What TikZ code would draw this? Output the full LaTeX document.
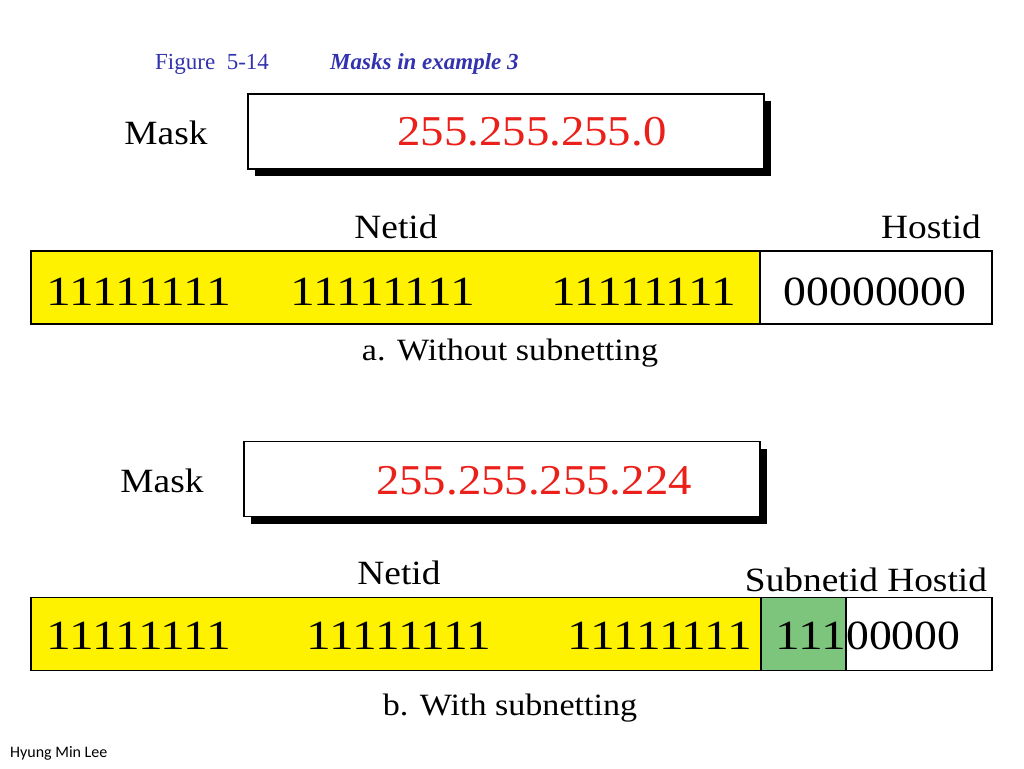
\documentclass[tikz,border=0pt]{standalone}
\usepackage{fontspec}
\setmainfont{Liberation Serif}
\newfontfamily\bigserif[FakeStretch=1.1]{Liberation Serif}
\newfontfamily\footfont{Carlito}
\usetikzlibrary{shadows}
\definecolor{maskred}{RGB}{235,32,26}
\definecolor{titleblue}{RGB}{51,51,175}
\definecolor{subgreen}{RGB}{125,197,125}
\newcommand{\onesw}[1]{\scalebox{1.08}[1]{#1}}
\tikzset{
  lbltxt/.style={font=\bigserif\fontsize{34}{40}\selectfont, inner sep=0pt},
  captxt/.style={font=\bigserif\fontsize{31}{36}\selectfont, inner sep=0pt},
  bitstxt/.style={font=\bigserif\fontsize{41.5}{48}\selectfont, inner sep=0pt},
  maskval/.style={font=\bigserif\fontsize{42.5}{48}\selectfont, inner sep=0pt, text=maskred},
  maskbox/.style={draw=black, line width=1.3pt, fill=white, minimum width=516pt, minimum height=75pt,
    drop shadow={shadow xshift=7pt, shadow yshift=-7pt, opacity=1, fill=black}},
  seg/.style={draw=black, line width=1.5pt, minimum height=73pt, inner sep=0pt},
  figtitle/.style={font=\fontsize{23}{27}\selectfont, text=titleblue, inner sep=0pt, anchor=west}
}
\begin{document}
\begin{tikzpicture}[x=1pt, y=-1pt]
\useasboundingbox (0,0) rectangle (1024,768);
\fill[white] (0,0) rectangle (1024,768);

% title
\node[figtitle] (fig) at (155,64) {Figure\ \ 5-14};
\node[figtitle, font=\fontsize{23}{27}\selectfont\bfseries\itshape] (figt) at (330,64) {Masks in example 3};

% part a
\node[lbltxt] (maska) at (166,133) {Mask};
\node[maskbox] (boxa) at (506,131.5) {};
\node[maskval] (vala) at (532,132) {255.255.255.0};

\node[lbltxt] (neta) at (396,227) {Netid};
\node[lbltxt] (hosta) at (931,227) {Hostid};

\node[seg, fill=yellow, minimum width=729pt] (ya) at (395.5,287.5) {};
\node[seg, fill=white, minimum width=232pt] (wa) at (876,287.5) {};
\node[bitstxt] (a1) at (139,292) {\onesw{11111111}};
\node[bitstxt] (a2) at (383,292) {\onesw{11111111}};
\node[bitstxt] (a3) at (644,292) {\onesw{11111111}};
\node[bitstxt] (a4) at (875,292) {00000000};
\node[captxt] (capa) at (510,353) {a. Without subnetting};

% part b
\node[lbltxt] (maskb) at (162,481) {Mask};
\node[maskbox] (boxb) at (502,479) {};
\node[maskval] (valb) at (534,481) {255.255.255.224};

\node[lbltxt] (netb) at (399,573) {Netid};
\node[lbltxt] (subb) at (866,580) {Subnetid Hostid};

\node[seg, fill=yellow, minimum width=730pt] (yb) at (396,634) {};
\node[seg, fill=subgreen, minimum width=85pt] (gb) at (803.5,634) {};
\node[seg, fill=white, minimum width=146pt] (wb) at (919,634) {};
\node[bitstxt] (b1) at (139,636) {\onesw{11111111}};
\node[bitstxt] (b2) at (399,636) {\onesw{11111111}};
\node[bitstxt] (b3) at (660,636) {\onesw{11111111}};
\node[bitstxt, anchor=east] (b4) at (846,636) {\onesw{111}};
\node[bitstxt, anchor=west] (b5) at (846,636) {00000};
\node[captxt] (capb) at (510,708) {b. With subnetting};

% footer
\node[font=\footfont\fontsize{16}{19}\selectfont, inner sep=0pt, anchor=west] (author) at (10,753) {Hyung Min Lee};
\end{tikzpicture}
\end{document}
